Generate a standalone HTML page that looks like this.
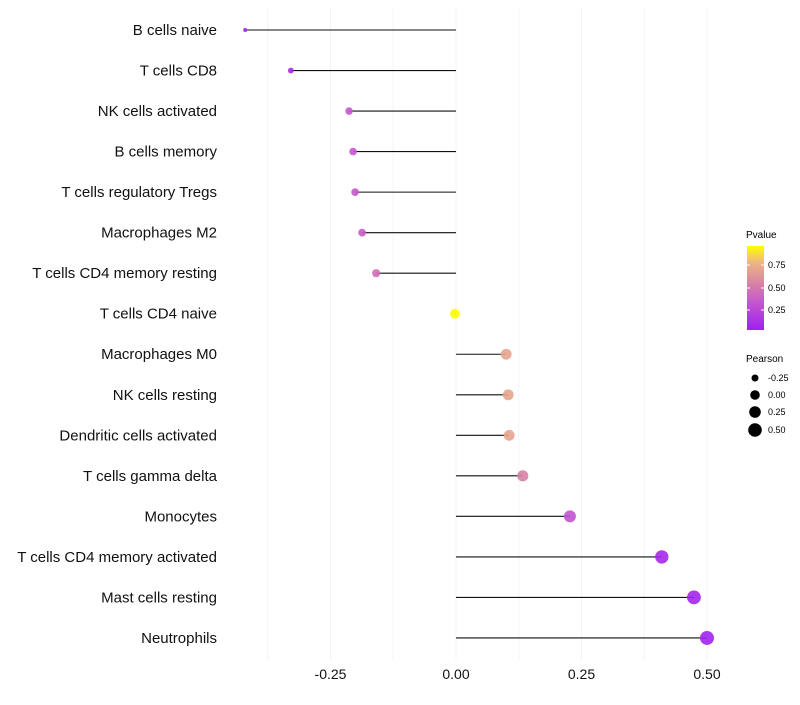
<!DOCTYPE html>
<html><head><meta charset="utf-8"><style>
body{margin:0;background:#fff;font-family:"Liberation Sans",sans-serif}
</style></head><body>
<svg id="chart" width="800" height="700" xmlns="http://www.w3.org/2000/svg" font-family="Liberation Sans, sans-serif">
<defs><linearGradient id="pg" x1="0" y1="1" x2="0" y2="0">
<stop offset="0" stop-color="#A020F0"/><stop offset="0.35" stop-color="#C85ACB"/><stop offset="0.6" stop-color="#DC8C9E"/><stop offset="0.8" stop-color="#EDB585"/><stop offset="1" stop-color="#FFFF00"/></linearGradient></defs>
<g id="grid"></g><g id="marks"></g><g id="labels"></g>
<g font-size="9">
<text x="746" y="238" font-size="10">Pvalue</text>
<rect x="747" y="246" width="17" height="84" fill="url(#pg)"/>
<line x1="747" x2="750" y1="265" y2="265" stroke="#fff"/><line x1="761" x2="764" y1="265" y2="265" stroke="#fff"/>
<line x1="747" x2="750" y1="288" y2="288" stroke="#fff"/><line x1="761" x2="764" y1="288" y2="288" stroke="#fff"/>
<line x1="747" x2="750" y1="310" y2="310" stroke="#fff"/><line x1="761" x2="764" y1="310" y2="310" stroke="#fff"/>
<text x="768" y="268">0.75</text><text x="768" y="291">0.50</text><text x="768" y="313">0.25</text>
</g>
<g font-size="9">
<text x="746" y="362" font-size="10">Pearson</text>
<circle cx="755" cy="378" r="3.5"/><text x="768" y="381">-0.25</text>
<circle cx="755" cy="395" r="4.8"/><text x="768" y="398">0.00</text>
<circle cx="755" cy="412" r="5.8"/><text x="768" y="415">0.25</text>
<circle cx="755" cy="430" r="6.8"/><text x="768" y="433">0.50</text>
</g>
</svg>
<script>
const categories=["B cells naive","T cells CD8","NK cells activated","B cells memory","T cells regulatory  Tregs ","Macrophages M2","T cells CD4 memory resting","T cells CD4 naive","Macrophages M0","NK cells resting","Dendritic cells activated","T cells gamma delta","Monocytes","T cells CD4 memory activated","Mast cells resting","Neutrophils"];
const pearson=[-0.42,-0.329,-0.213,-0.205,-0.201,-0.187,-0.159,-0.002,0.10,0.104,0.106,0.133,0.227,0.41,0.474,0.50];
const pvalues=[0.02,0.06,0.32,0.34,0.34,0.36,0.45,0.99,0.72,0.72,0.72,0.55,0.3,0.05,0.03,0.02];
const xTicks=[-0.25,0,0.25,0.5];
const xTickLabels=["-0.25","0.00","0.25","0.50"];
const NS="http://www.w3.org/2000/svg";
const x=v=>456+v*502;
const y=i=>30+i*40.53;
const r=v=>Math.sqrt(Math.max(1,24.5+48.9*v));
const stops=[[0,[160,32,240]],[0.35,[200,90,203]],[0.6,[220,140,158]],[0.8,[237,181,133]],[1,[255,255,0]]];
function col(p){const t=Math.min(1,Math.max(0,p));let k=0;while(k<stops.length-2&&t>stops[k+1][0])k++;
const a=stops[k],b=stops[k+1],f=(t-a[0])/(b[0]-a[0]);return `rgb(${a[1].map((c,i)=>Math.round(c+(b[1][i]-c)*f))})`;}
function mk(tag,at,parent){const e=document.createElementNS(NS,tag);for(const k in at)e.setAttribute(k,at[k]);parent.appendChild(e);return e;}
const grid=document.getElementById('grid'),marks=document.getElementById('marks'),labels=document.getElementById('labels');
for(let v=-0.375;v<=0.5001;v+=0.125){const g=mk('line',{x1:x(v),x2:x(v),y1:8,y2:660,stroke:'#f3f3f3','stroke-width':1},grid);

}
xTicks.forEach((v,i)=>{const t=mk('text',{x:x(v),y:679,'text-anchor':'middle','font-size':14,fill:'#111'},labels);t.textContent=xTickLabels[i];

});
categories.forEach((c,i)=>{
const t=mk('text',{x:217,y:y(i)+5,'text-anchor':'end','font-size':15,fill:'#111'},labels);t.textContent=c;


const l=mk('line',{x1:x(0),x2:x(pearson[i]),y1:y(i),y2:y(i),stroke:'#111','stroke-width':1.1},marks);


const d=mk('circle',{cx:x(pearson[i]),cy:y(i),r:r(pearson[i]),fill:col(pvalues[i]),'fill-opacity':0.9},marks);


});
</script>
</body></html>
